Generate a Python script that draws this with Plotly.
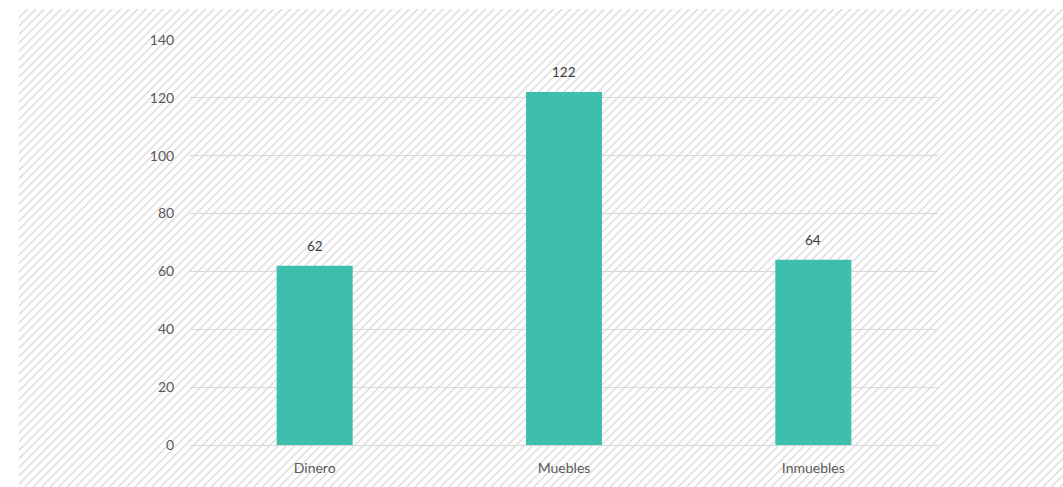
import plotly.graph_objects as go

categories = ["Dinero", "Muebles", "Inmuebles"]
values = [62, 122, 64]
y_ticks = [0, 20, 40, 60, 80, 100, 120, 140]

bar_color = "#3EBFAE"
grid_color = "#D9D9D9"
tick_color = "#595959"
label_color = "#404040"
font_family = "Lato, 'Open Sans', sans-serif"

W, H = 1063, 487
ml, mr, mt, mb = 19, 0, 9, 0
pw, ph = W - ml - mr, H - mt - mb
x0, x1 = 190, 938
y_bottom, y_top = 445, 40

fig = go.Figure()

# hatched background (drawn on the first subplot so it sits below the chart)
fig.add_trace(go.Scatter(
    x=[0, 1, 1, 0, 0], y=[0, 0, 1, 1, 0],
    mode="lines", line=dict(width=0), fill="toself",
    fillcolor="white",
    fillpattern=dict(shape="/", size=6, solidity=0.2, fgcolor="#ABABAB", bgcolor="white"),
    hoverinfo="skip", showlegend=False, xaxis="x", yaxis="y",
))

fig.add_trace(go.Bar(
    x=categories, y=values, marker=dict(color=bar_color, line=dict(width=0)),
    xaxis="x2", yaxis="y2", showlegend=False, hoverinfo="skip",
))

for c, v in zip(categories, values):
    fig.add_annotation(
        x=c, y=v, xref="x2", yref="y2", text=str(v), showarrow=False,
        yanchor="bottom", yshift=10,
        font=dict(family=font_family, size=13.5, color=label_color),
    )

fig.update_layout(
    autosize=False,
    width=W, height=H,
    margin=dict(l=ml, r=mr, t=mt, b=mb, pad=0, autoexpand=False),
    paper_bgcolor="white",
    plot_bgcolor="rgba(0,0,0,0)",
    bargap=0.695,
    xaxis=dict(domain=[0, 1], range=[0, 1], visible=False, fixedrange=True, automargin=False),
    yaxis=dict(domain=[0, 1], range=[0, 1], visible=False, fixedrange=True, automargin=False),
    xaxis2=dict(
        domain=[(x0 - ml) / pw, (x1 - ml) / pw], anchor="y2", automargin=False,
        showgrid=False, showline=True, linecolor=grid_color, linewidth=1,
        ticks="outside", ticklen=10, tickcolor="rgba(0,0,0,0)",
        tickfont=dict(family=font_family, size=14, color=tick_color),
    ),
    yaxis2=dict(
        domain=[(H - y_bottom) / ph, (H - y_top) / ph], anchor="x2", automargin=False,
        range=[0, 140], tickvals=y_ticks,
        showgrid=True, gridcolor=grid_color, gridwidth=1,
        zeroline=False, showline=False,
        ticks="outside", ticklen=12, tickcolor="rgba(0,0,0,0)",
        tickfont=dict(family=font_family, size=14, color=tick_color),
    ),
)

fig.write_html(
    "out.html",
    config={"displayModeBar": False, "responsive": False},
    post_script="document.body.style.margin='0px';document.body.style.overflow='hidden';",
)
